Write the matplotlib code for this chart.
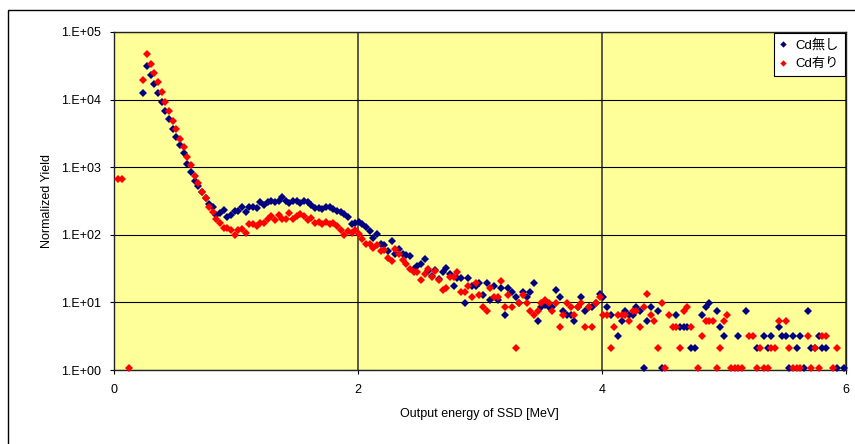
import matplotlib
matplotlib.use('Agg')
import matplotlib.pyplot as plt
import numpy as np
from matplotlib.patches import Rectangle
from matplotlib.ticker import NullLocator

# energy of each SSD channel [MeV]
energy = [
    0.035, 0.065, 0.095, 0.125, 0.155, 0.185, 0.214, 0.244, 0.274, 0.304,
    0.334, 0.364, 0.394, 0.424, 0.454, 0.484, 0.513, 0.543, 0.573, 0.603,
    0.633, 0.663, 0.693, 0.723, 0.753, 0.783, 0.812, 0.842, 0.872, 0.902,
    0.932, 0.962, 0.992, 1.022, 1.052, 1.082, 1.111, 1.141, 1.171, 1.201,
    1.231, 1.261, 1.291, 1.321, 1.351, 1.381, 1.410, 1.440, 1.470, 1.500,
    1.530, 1.560, 1.590, 1.620, 1.650, 1.680, 1.709, 1.739, 1.769, 1.799,
    1.829, 1.859, 1.889, 1.919, 1.949, 1.979, 2.008, 2.038, 2.068, 2.098,
    2.128, 2.158, 2.188, 2.218, 2.248, 2.278, 2.307, 2.337, 2.367, 2.397,
    2.427, 2.457, 2.487, 2.517, 2.547, 2.577, 2.606, 2.636, 2.666, 2.696,
    2.726, 2.756, 2.786, 2.816, 2.846, 2.876, 2.905, 2.935, 2.965, 2.995,
    3.025, 3.055, 3.085, 3.115, 3.145, 3.175, 3.204, 3.234, 3.264, 3.294,
    3.324, 3.354, 3.384, 3.414, 3.444, 3.474, 3.503, 3.533, 3.563, 3.593,
    3.623, 3.653, 3.683, 3.713, 3.743, 3.773, 3.802, 3.832, 3.862, 3.892,
    3.922, 3.952, 3.982, 4.012, 4.042, 4.072, 4.101, 4.131, 4.161, 4.191,
    4.221, 4.251, 4.281, 4.311, 4.341, 4.371, 4.400, 4.430, 4.460, 4.490,
    4.520, 4.550, 4.580, 4.610, 4.640, 4.670, 4.699, 4.729, 4.759, 4.789,
    4.819, 4.849, 4.879, 4.909, 4.939, 4.969, 4.998, 5.028, 5.058, 5.088,
    5.118, 5.148, 5.178, 5.208, 5.238, 5.268, 5.297, 5.327, 5.357, 5.387,
    5.417, 5.447, 5.477, 5.507, 5.537, 5.567, 5.596, 5.626, 5.656, 5.686,
    5.716, 5.746, 5.776, 5.806, 5.836, 5.866, 5.895, 5.925, 5.955, 5.985,
]

# normalized yield without Cd (None = empty channel)
yield_no_cd = [
    None, None, None, None, None, None, None, 12700, 31400, 23400,
    17000, 12700, 9220, 6850, 5160, 3670, 2800, 2110, 1610, 1115,
    850, 625, 527, 430, 350, 283, 261, 196, 212, 233,
    182, 194, 225, 225, 260, 218, 260, 260, 250, 307,
    276, 309, 320, 309, 316, 366, 320, 299, 320, 320,
    299, 320, 309, 279, 252, 252, 243, 261, 261, 243,
    227, 220, 205, 185, 146, 151, 156, 146, 132, 115,
    89.7, 103, 73.8, 70.6, 57.6, 81, 52, 61.7, 52, 50.3,
    48, 31.2, 34.5, 37, 43.9, 29.1, 24.5, 30.1, 22, 28.2,
    32.3, 26.3, 17.5, 23, 23, 9.8, 23, 17.5, 17.5, 19.4,
    12.9, 19.4, 10.9, 17.5, 10.9, 16.4, 6.5, 16.4, 14.3, 12.0,
    9.8, 14.3, 12.0, 14.3, 19.4, 5.3, 8.55, 9.2, 8.55, 8.55,
    15.3, 12.0, 7.46, 6.5, 6.5, 5.3, 8.55, 12.0, 7.46, 8.55,
    8.45, 9.7, 13.2, 12.1, 8.45, 6.5, None, 3.15, 5.3, 7.4,
    6.5, 6.5, 8.45, 7.4, 1.07, 5.3, 8.45, None, 7.4, 1.07,
    None, None, None, 6.5, 4.32, 4.32, 4.32, 2.1, 2.1, None,
    6.5, 8.45, 9.7, None, 7.4, 4.32, 3.18, None, None, None,
    3.18, None, 7.45, None, None, 2.12, None, 3.18, 2.12, 3.18,
    None, 4.32, 3.18, 3.18, 1.07, 3.18, 2.12, 3.18, 1.07, 7.45,
    2.12, 2.12, 3.18, 2.12, 2.12, None, None, 1.07, None, 1.07,
]

# normalized yield with Cd
yield_with_cd = [
    668, 668, None, 1.07, None, None, None, 19500, 47300, 33600,
    25000, 18200, 13000, 9220, 6850, 4820, 3640, 2610, 2010, 1430,
    1078, 748, 578, 425, 354, 261, 220, 171, 150, 126,
    126, 118, 99, 118, 123, 107, 146, 146, 136, 151,
    151, 173, 192, 167, 198, 173, 173, 212, 173, 192,
    205, 192, 167, 179, 151, 156, 146, 156, 146, 151,
    136, 119, 100, 115, 107, 119, 104, 87.5, 73.8, 73.8,
    63.8, 70.6, 57.6, 59.6, 45.4, 41, 61.7, 52, 42.4, 37,
    31.2, 28.2, 28.2, 21.4, 26.3, 31.2, 23.8, 29.1, 21.4, 15.3,
    16.4, 23.8, 23.8, 28.2, 14.3, 14.3, 17.5, 12.0, 19.4, 12.9,
    8.55, 7.46, 16.4, 12.0, 12.0, 20.7, 8.55, 12.9, 8.55, 2.12,
    9.8, 12.9, 9.8, 7.46, 6.5, 7.46, 9.8, 10.9, 9.8, 7.46,
    9.8, 4.32, 6.5, 9.8, 8.55, 6.5, 8.55, 9.8, 4.32, 8.55,
    4.32, 9.7, 12.1, 6.5, 6.5, 2.1, 4.32, 6.5, 6.5, 6.5,
    5.3, 7.4, 7.4, 4.32, 8.45, 13.2, 6.5, 5.3, 2.1, 9.7,
    1.07, 6.5, 4.32, 4.32, 2.1, 7.4, 8.45, 4.32, None, 1.07,
    3.15, 5.3, 5.3, 5.3, 1.07, 2.1, 5.3, 6.5, 1.07, 1.07,
    1.07, 1.07, None, 3.18, 3.18, 1.07, 2.12, 1.07, 1.07, 2.12,
    2.12, 5.3, None, 5.3, 2.12, 1.07, 1.07, 1.07, None, 3.18,
    1.07, 2.12, 1.07, 3.18, 3.18, None, 1.07, 2.12, None, None,
]

series_labels = ['Cd無し', 'Cd有り']
x_ticks = [0, 2, 4, 6]
y_ticks = [1, 10, 100, 1000, 10000, 100000]
y_tick_labels = ['1.E+00', '1.E+01', '1.E+02', '1.E+03', '1.E+04', '1.E+05']

plt.rcParams['font.family'] = ['Liberation Sans', 'Noto Sans CJK JP', 'DejaVu Sans']

fig = plt.figure(figsize=(8.55, 4.44), dpi=100)
W, H = 855, 444
ax = fig.add_axes([113.7 / W, 74 / H, (846 - 113.7) / W, (370 - 32) / H])
ax.set_facecolor('#FFFF99')

# outer chart frame (only top/left edge inside the picture)
fig.add_artist(Rectangle((8 / W, -0.1), 1.2, (H - 10) / H + 0.1,
                         transform=fig.transFigure, fill=False,
                         ec='black', lw=1.0))

for ys, col, lab in [(yield_no_cd, '#000080', series_labels[0]),
                     (yield_with_cd, '#FF0000', series_labels[1])]:
    ax.plot(energy, np.array(ys, dtype=float), linestyle='none', marker='D',
            ms=3.8, mew=0, color=col, label=lab, clip_on=False, zorder=3)

ax.set_xlim(0, 6)
ax.set_yscale('log')
ax.set_ylim(1, 1e5)
ax.set_xticks(x_ticks)
ax.set_xticklabels([str(t) for t in x_ticks])
ax.set_yticks(y_ticks)
ax.set_yticklabels(y_tick_labels)
ax.yaxis.set_minor_locator(NullLocator())

ax.grid(axis='y', color='black', lw=0.8)
ax.grid(axis='x', color='#5a5a48', lw=1.4)
ax.set_axisbelow(True)
for sp in ax.spines.values():
    sp.set_color('#222222')
    sp.set_linewidth(1.0)

ax.tick_params(axis='both', direction='out', length=3, width=0.8,
               labelsize=9, color='black')
ax.tick_params(axis='x', pad=7)
ax.tick_params(axis='y', pad=6)

ax.set_xlabel('Output energy of SSD [MeV]', fontsize=9, labelpad=9)
ax.set_ylabel('Normalized Yield', fontsize=9, labelpad=6)

leg = ax.legend(loc='upper right', bbox_to_anchor=(1.0, 1.0), borderaxespad=0.1,
                fancybox=False, edgecolor='black', framealpha=1, fontsize=9.5,
                handlelength=0.6, handletextpad=0.6, borderpad=0.45,
                labelspacing=0.45, markerscale=0.85)
leg.get_frame().set_linewidth(0.8)

fig.savefig('out.png', dpi=100)
